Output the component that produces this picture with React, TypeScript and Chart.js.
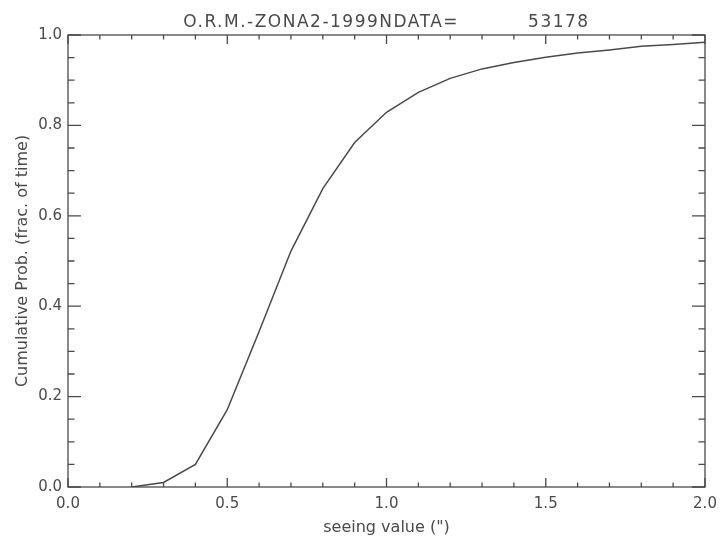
import React, { useEffect, useRef } from "react";
import { Chart, registerables } from "chart.js";

Chart.register(...registerables);

const seeing: number[] = [0.2, 0.3, 0.4, 0.5, 0.6, 0.7, 0.8, 0.9, 1.0, 1.1, 1.2, 1.3, 1.4, 1.5, 1.6, 1.7, 1.8, 1.9, 2.0];
const cumProb: number[] = [0.0, 0.01, 0.05, 0.171, 0.344, 0.522, 0.66, 0.762, 0.829, 0.873, 0.904, 0.925, 0.939, 0.951, 0.96, 0.967, 0.975, 0.979, 0.984];
const titleText = "O.R.M.-ZONA2-1999NDATA=          53178";
const xTitle = 'seeing value (")';
const yTitle = "Cumulative Prob. (frac. of time)";

const INK = "#4a4a4a";
const FONT = "'DejaVu Sans', sans-serif";

const isMajorX = (v: number) => Math.abs(v * 2 - Math.round(v * 2)) < 1e-6;
const isMajorY = (v: number) => Math.abs(v * 5 - Math.round(v * 5)) < 1e-6;

const boxPlugin = {
  id: "idlBox",
  afterDraw(chart: any) {
    const { ctx, chartArea } = chart;
    const { left, right, top, bottom } = chartArea;
    const xs = chart.scales.x;
    const ys = chart.scales.y;
    ctx.save();
    ctx.strokeStyle = INK;
    ctx.lineWidth = 1.3;
    ctx.strokeRect(left, top, right - left, bottom - top);
    ctx.beginPath();
    for (const t of xs.ticks) {
      const px = xs.getPixelForValue(t.value);
      const len = isMajorX(t.value) ? 9 : 4.5;
      ctx.moveTo(px, bottom);
      ctx.lineTo(px, bottom - len);
      ctx.moveTo(px, top);
      ctx.lineTo(px, top + len);
    }
    for (const t of ys.ticks) {
      const py = ys.getPixelForValue(t.value);
      const len = isMajorY(t.value) ? 13 : 6.5;
      ctx.moveTo(left, py);
      ctx.lineTo(left + len, py);
      ctx.moveTo(right, py);
      ctx.lineTo(right - len, py);
    }
    ctx.stroke();
    // title
    ctx.fillStyle = INK;
    ctx.font = `17px ${FONT}`;
    (ctx as any).letterSpacing = "1.5px";
    ctx.textAlign = "center";
    ctx.textBaseline = "alphabetic";
    ctx.fillText(titleText, (left + right) / 2, 27);
    ctx.restore();
  },
};

export default function App() {
  const ref = useRef<HTMLCanvasElement | null>(null);
  useEffect(() => {
    if (!ref.current) return;
    const chart = new Chart(ref.current, {
      type: "line",
      data: {
        datasets: [
          {
            data: seeing.map((x, i) => ({ x, y: cumProb[i] })),
            borderColor: INK,
            borderWidth: 1.5,
            pointRadius: 0,
            tension: 0,
            fill: false,
          },
        ],
      },
      options: {
        animation: false,
        responsive: true,
        maintainAspectRatio: false,
        layout: { padding: { top: 35, right: 15, left: 0, bottom: 0 } },
        plugins: { legend: { display: false }, tooltip: { enabled: false }, title: { display: false } },
        scales: {
          x: {
            type: "linear",
            min: 0,
            max: 2,
            grid: { display: false, drawTicks: false },
            border: { display: false },
            ticks: {
              stepSize: 0.1,
              autoSkip: false,
              maxTicksLimit: 100,
              maxRotation: 0,
              padding: 8,
              color: INK,
              font: { family: FONT, size: 15 },
              callback: (v: any) => (isMajorX(Number(v)) ? Number(v).toFixed(1) : ""),
            },
            title: {
              display: true,
              text: xTitle,
              color: INK,
              font: { family: FONT, size: 16 },
              padding: { top: 0, bottom: 2 },
            },
            afterFit: (s: any) => {
              s.height = 52;
              s.paddingLeft = 0;
              s.paddingRight = 0;
            },
          },
          y: {
            type: "linear",
            min: 0,
            max: 1,
            grid: { display: false, drawTicks: false },
            border: { display: false },
            ticks: {
              stepSize: 0.05,
              autoSkip: false,
              maxTicksLimit: 100,
              padding: 6,
              color: INK,
              font: { family: FONT, size: 15 },
              callback: (v: any) => (isMajorY(Number(v)) ? Number(v).toFixed(1) : ""),
            },
            title: {
              display: true,
              text: yTitle,
              color: INK,
              font: { family: FONT, size: 16 },
              padding: { top: 13, bottom: 0 },
            },
            afterFit: (s: any) => {
              s.width = 68;
              s.paddingTop = 0;
              s.paddingBottom = 0;
            },
          },
        },
      },
      plugins: [boxPlugin],
    });
    return () => chart.destroy();
  }, []);
  return (
    <div style={{ position: "absolute", left: 0, top: 0, width: 720, height: 539, background: "#fff" }}>
      <canvas ref={ref} />
    </div>
  );
}
